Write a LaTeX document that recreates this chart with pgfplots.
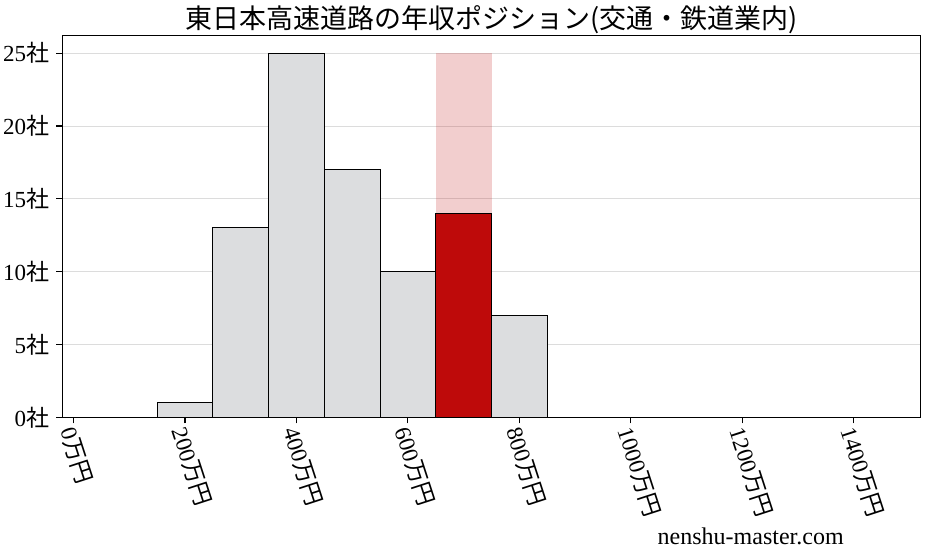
\documentclass[border=0pt]{standalone}
\usepackage{fontspec}
\setmainfont{Liberation Serif}
\newfontfamily\cjk{Noto Sans CJK JP}
\usepackage{pgfplots}
\pgfplotsset{compat=1.18}

\definecolor{bargray}{HTML}{DCDDDF}
\definecolor{barred}{HTML}{BE0A0A}
\definecolor{gridgray}{HTML}{DCDCDC}

\begin{document}
\begin{tikzpicture}
\begin{axis}[
    name=ax,
    scale only axis,
    width=429.2pt,
    height=190.8pt,
    xmin=-20, xmax=1520,
    ymin=0, ymax=26.2,
    axis line style={line width=0.6pt},
    xtick={0,200,...,1400},
    ytick={0,5,...,25},
    tick align=outside,
    major tick length=3pt,
    tick style={black, line width=0.6pt},
    xtick pos=bottom,
    ytick pos=left,
    ymajorgrids,
    grid style={gridgray, line width=0.5pt},
    ticklabel style={font=\fontsize{11.5}{13}\selectfont},
    xticklabel={\pgfmathprintnumber[assume math mode=true,fixed,precision=0,1000 sep={}]{\tick}{\cjk 万円}},
    yticklabel={\pgfmathprintnumber[assume math mode=true,fixed,precision=0]{\tick}{\cjk 社}},
    x tick label style={rotate=-72, anchor=west, xshift=-2pt, yshift=-3.5pt},
    clip=false,
]

% highlighted range (transparent)
\addplot[ybar, bar width=100, bar shift=0pt, draw=none, fill=barred, fill opacity=0.2]
    coordinates {(700,25)};

% other companies
\addplot[ybar, bar width=100, bar shift=0pt, draw=black, line width=0.5pt, fill=bargray]
    coordinates {(200,1) (300,13) (400,25) (500,17) (600,10) (800,7)};

% this company's bin
\addplot[ybar, bar width=100, bar shift=0pt, draw=black, line width=0.5pt, fill=barred]
    coordinates {(700,14)};

\node[font=\fontsize{13.5}{15}\selectfont, anchor=base, yshift=3.5pt] at (rel axis cs:0.5,1)
    {\cjk 東日本高速道路の年収ポジション(交通・鉄道業内)};
\node[font=\fontsize{12}{14}\selectfont] at (axis cs:1215,-8.2) {nenshu-master.com};

\end{axis}
\pgfresetboundingbox
\path ([xshift=-31.15pt, yshift=-69.85pt]ax.south west) rectangle ([xshift=3.65pt, yshift=17.85pt]ax.north east);
\end{tikzpicture}
\end{document}
